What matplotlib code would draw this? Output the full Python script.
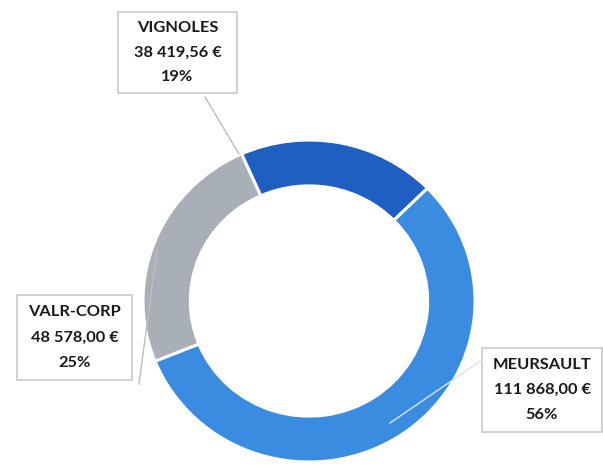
import matplotlib
matplotlib.use("Agg")
import matplotlib.pyplot as plt

# slice data, in drawing order (clockwise from the top-left)
names = ["VIGNOLES", "MEURSAULT", "VALR-CORP"]
values = [38419.56, 111868.00, 48578.00]
pct_labels = ["19%", "56%", "25%"]
colors = ["#1f5fc2", "#3a8ce0", "#a9afb7"]

W, H = 603, 470


def euro(v):
    s = f"{v:,.2f}".replace(",", " ").replace(".", ",")
    return s + " €"


fig = plt.figure(figsize=(W / 100, H / 100), dpi=100)
fig.patch.set_facecolor("white")

# donut axis (scan is slightly wider than tall, so aspect is left auto)
cx, cy, rx, ry = 309, 301, 166, 161
pax = fig.add_axes([(cx - rx) / W, (H - cy - ry) / H, 2 * rx / W, 2 * ry / H])
pax.pie(values, colors=colors, startangle=114, counterclock=False, radius=1,
        wedgeprops=dict(width=0.285, edgecolor="white", linewidth=2.2))
pax.set_xlim(-1, 1)
pax.set_ylim(-1, 1)
pax.set_aspect("auto")
pax.axis("off")

# overlay axis in pixel units for the callouts, on top of the donut
ax = fig.add_axes([0, 0, 1, 1])
ax.patch.set_alpha(0)
ax.set_xlim(0, W)
ax.set_ylim(H, 0)
ax.axis("off")

# callout boxes: (left, top, right, bottom)
boxes = {
    "VIGNOLES": (118, 12, 237, 93),
    "MEURSAULT": (482, 348, 602, 432),
    "VALR-CORP": (17, 295, 132, 380),
}
leaders = {
    "VIGNOLES": [(205, 97), (239, 154)],
    "MEURSAULT": [(390, 423), (482, 360)],
    "VALR-CORP": [(139, 384), (157, 250)],
}

for name, val, pct in zip(names, values, pct_labels):
    l, t, r, b = boxes[name]
    ax.add_patch(plt.Rectangle((l, t), r - l, b - t, fill=True, facecolor="white",
                               edgecolor="#c9c9c9", linewidth=1.2, zorder=3))
    xc = (l + r) / 2
    step = (b - t) / 3.3
    y0 = t + (b - t) / 2 - step
    for i, line in enumerate([name, euro(val), pct]):
        ax.text(xc, y0 + i * step, line, ha="center", va="center", fontsize=11.8,
                family=["Lato", "DejaVu Sans"], fontweight="bold", color="#1a1a1a",
                zorder=4)
    (x1, y1), (x2, y2) = leaders[name]
    lc = "#dce3ec" if name == "MEURSAULT" else "#bdbdbd"
    ax.plot([x1, x2], [y1, y2], color=lc, linewidth=1.0, zorder=5)

fig.savefig("out.png", dpi=100, facecolor="white")
